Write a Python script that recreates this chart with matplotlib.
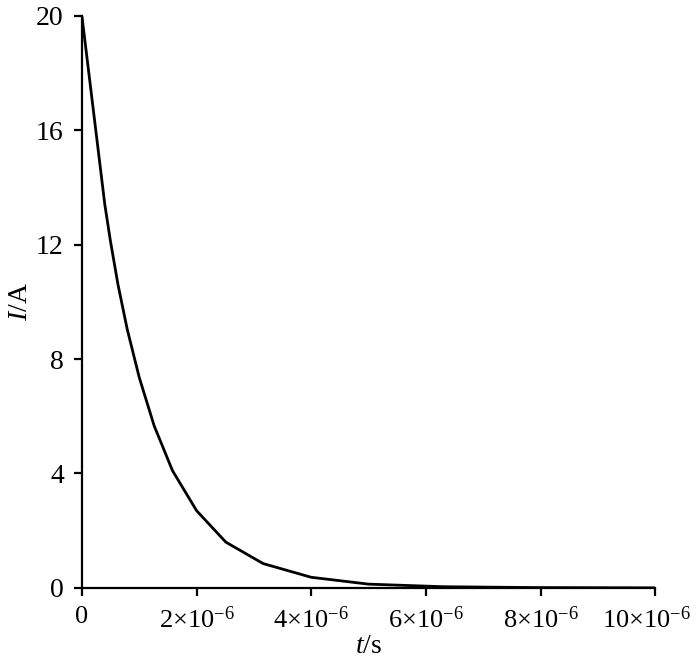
import matplotlib
matplotlib.use("Agg")
import matplotlib.pyplot as plt

# data (t in microseconds, I in amperes)
t_us = [0.0, 0.4, 0.5, 0.63, 0.79, 1.0, 1.26, 1.58, 2.0, 2.51, 3.16, 4.0, 5.0, 6.3, 7.9, 10.0]
current = [20.0, 13.4, 12.1, 10.6, 9.05, 7.36, 5.67, 4.1, 2.7, 1.6, 0.85, 0.37, 0.13, 0.04, 0.01, 0.0]
t_s = [v * 1e-6 for v in t_us]

xticks = [0, 2e-6, 4e-6, 6e-6, 8e-6, 10e-6]
xticklabels = ["0", r"2×10$^{\mathregular{-6}}$", r"4×10$^{\mathregular{-6}}$",
               r"6×10$^{\mathregular{-6}}$", r"8×10$^{\mathregular{-6}}$", r"10×10$^{\mathregular{-6}}$"]
yticks = [0, 4, 8, 12, 16, 20]

plt.rcParams['font.family'] = ['Liberation Serif', 'DejaVu Serif']
plt.rcParams['mathtext.fontset'] = 'custom'
plt.rcParams['mathtext.rm'] = 'Liberation Serif'
plt.rcParams['mathtext.it'] = 'Liberation Serif:italic'

fig = plt.figure(figsize=(7, 6.65), dpi=100)
ax = fig.add_axes([0.117, 0.116, 0.819, 0.860])
ax.plot(t_s, current, color='black', lw=2.0)
ax.set_xlim(0, 10e-6)
ax.set_ylim(0, 20)
ax.set_xticks(xticks)
ax.set_xticklabels(xticklabels, fontsize=19)
ax.set_yticks(yticks)
for s in ['top', 'right']:
    ax.spines[s].set_visible(False)
for s in ['left', 'bottom']:
    ax.spines[s].set_linewidth(1.6)
ax.tick_params(direction='out', length=6, width=1.6, labelsize=20)
ax.tick_params(axis='x', pad=7, labelsize=19)
ax.tick_params(axis='y', pad=7)
# nudge the last label left so it stays inside the figure, as in the reference
last = ax.get_xticklabels()[-1]
last.set_horizontalalignment('center')
ax.set_xlabel(r"$\mathit{t}$/s", fontsize=20, labelpad=1)
ax.set_ylabel(r"$\mathit{I}$/A", fontsize=20, labelpad=2)
fig.canvas.draw()
import matplotlib.transforms as mtransforms
offset = mtransforms.ScaledTranslation(-6 / 72, 0, fig.dpi_scale_trans)
last.set_transform(last.get_transform() + offset)
fig.savefig("out.png", dpi=100)
